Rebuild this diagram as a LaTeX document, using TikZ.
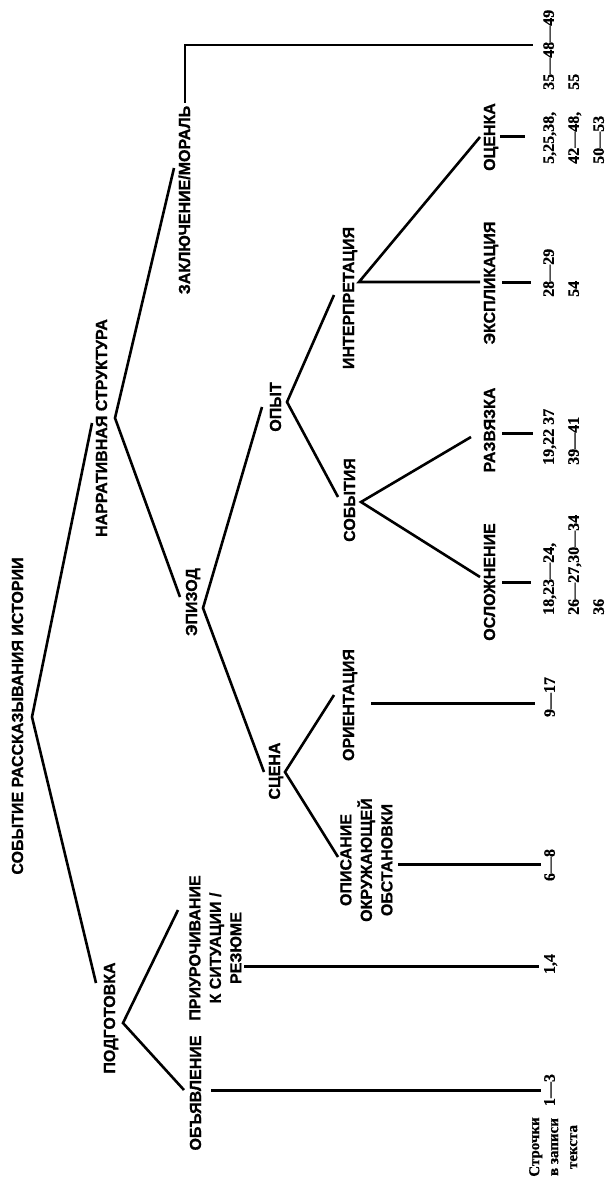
\documentclass[tikz,border=0pt]{standalone}
\usepackage{fontspec}
\setmainfont{Liberation Serif}[BoldFeatures={FakeBold=0.6}]
\newfontfamily\labfont{Liberation Sans}[BoldFeatures={FakeBold=0.8}]
\begin{document}
\begin{tikzpicture}[x=1pt,y=-1pt,
  lab/.style={rotate=90,inner sep=0pt,anchor=base,font=\labfont\bfseries\fontsize{16}{20.5}\selectfont},
  labm/.style={lab,align=center,anchor=north},
  num/.style={rotate=90,inner sep=0pt,align=left,anchor=north west,font=\bfseries\fontsize{16}{25}\selectfont},
  numc/.style={num,anchor=north},
  edge/.style={line width=2.6pt},
  leaf/.style={line width=3pt}]
\useasboundingbox[fill=white] (0,0) rectangle (612,1182);

% labels
\node[lab] (root)   at (23,716)  {СОБЫТИЕ РАССКАЗЫВАНИЯ ИСТОРИИ};
\node[lab] (narr)   at (107,428) {НАРРАТИВНАЯ СТРУКТУРА};
\node[lab] (podg)   at (115,1018) {ПОДГОТОВКА};
\node[lab] (zakl)   at (190,200) {ЗАКЛЮЧЕНИЕ/МОРАЛЬ};
\node[lab] (epi)    at (197,602) {ЭПИЗОД};
\node[lab] (opyt)   at (281,407) {ОПЫТ};
\node[lab] (scena)  at (280,771) {СЦЕНА};
\node[lab] (interp) at (354,298) {ИНТЕРПРЕТАЦИЯ};
\node[lab] (sob)    at (355,500) {СОБЫТИЯ};
\node[lab] (orient) at (354,705) {ОРИЕНТАЦИЯ};
\node[lab] (ocenka) at (495,137) {ОЦЕНКА};
\node[lab] (ekspl)  at (495,283) {ЭКСПЛИКАЦИЯ};
\node[lab] (razv)   at (495,430) {РАЗВЯЗКА};
\node[lab] (osl)    at (495,582) {ОСЛОЖНЕНИЕ};
\node[lab] (obyav)  at (201,1093) {ОБЪЯВЛЕНИЕ};
\node[labm] (opis)  at (340,860) {ОПИСАНИЕ\\ОКРУЖАЮЩЕЙ\\ОБСТАНОВКИ};
\node[labm] (priur) at (189,948) {ПРИУРОЧИВАНИЕ\\К СИТУАЦИИ /\\РЕЗЮМЕ};

% numbers
\node[num] (n5) at (543,90)  {35—48—49\\55};
\node[num] (n1) at (543,164) {5,25,38,\\42—48,\\50—53};
\node[num] (n2) at (543,297) {28—29\\54};
\node[num] (n3) at (543,465) {19,22 37\\39—41};
\node[num] (n4) at (543,615) {18,23—24,\\26—27,30—34\\36};
\node[numc] (n6) at (544,697)  {9—17};
\node[numc] (n7) at (544,865)  {6—8};
\node[numc] (n8) at (544,964)  {1,4};
\node[numc] (n9) at (544,1090) {1—3};
\node[rotate=90,inner sep=0pt,align=center,anchor=north,
      font=\bfseries\fontsize{15}{19}\selectfont] (rows) at (529,1147) {Строчки\\в записи\\текста};

% apex and end points
\coordinate (rootA) at (32,717);
\coordinate (narrE) at (92,423);
\coordinate (podgE) at (96,983);
\coordinate (narrA) at (115,418);
\coordinate (zaklE) at (174,168);
\coordinate (epiE) at (180,597);
\coordinate (zaklS) at (185,103);
\coordinate (zaklC) at (185,45);
\coordinate (zaklN) at (533,45);
\coordinate (epiA) at (203,608);
\coordinate (opytE) at (262,407);
\coordinate (scenaE) at (264,772);
\coordinate (opytA) at (287,402);
\coordinate (interpE) at (334,295);
\coordinate (sobE) at (338,497);
\coordinate (interpA) at (359,282);
\coordinate (ocenkaE) at (480,137);
\coordinate (eksplE) at (480,282);
\coordinate (sobA) at (361,502);
\coordinate (razvE) at (471,437);
\coordinate (oslE) at (480,577);
\coordinate (scenaA) at (285,772);
\coordinate (orientE) at (334,695);
\coordinate (opisE) at (338,857);
\coordinate (podgA) at (123,1023);
\coordinate (priurE) at (178,910);
\coordinate (obyavE) at (184,1090);

% connectors
\draw[edge] (narrE) -- (rootA) -- (podgE);
\draw[edge] (zaklE) -- (narrA) -- (epiE);
\draw[edge] (zaklS) -- (zaklC) -- (zaklN);
\draw[edge] (opytE) -- (epiA) -- (scenaE);
\draw[edge] (interpE) -- (opytA) -- (sobE);
\draw[edge] (ocenkaE) -- (interpA) -- (eksplE);
\draw[edge] (razvE) -- (sobA) -- (oslE);
\draw[edge] (orientE) -- (scenaA) -- (opisE);
\draw[edge] (priurE) -- (podgA) -- (obyavE);

% leaf lines
\draw[leaf] (500,137) -- (525,137);
\draw[leaf] (502,282) -- (531,282);
\draw[leaf] (502,433) -- (533,433);
\draw[leaf] (502,582) -- (531,582);
\draw[leaf] (371,703) -- (535,703);
\draw[leaf] (398,864) -- (541,864);
\draw[leaf] (244,966) -- (539,966);
\draw[leaf] (211,1090) -- (541,1090);
\end{tikzpicture}
\end{document}
